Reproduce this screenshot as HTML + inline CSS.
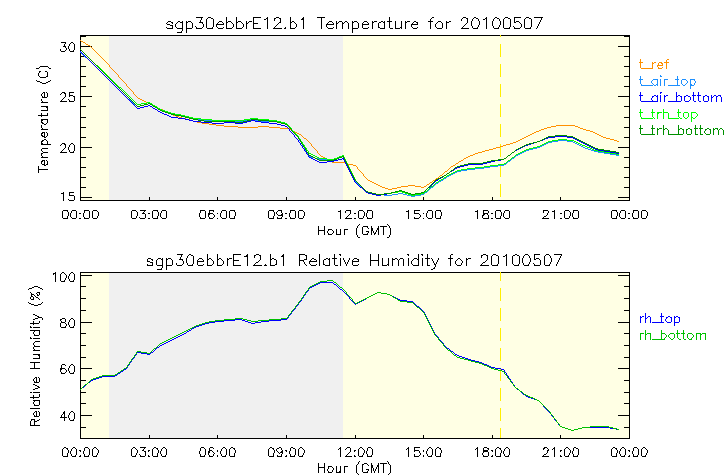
<!DOCTYPE html>
<html><head><meta charset="utf-8"><title>sgp30ebbrE12.b1 20100507</title>
<style>
html,body{margin:0;padding:0;background:#fff;font-family:"Liberation Sans",sans-serif;}
svg{display:block;}
</style></head><body>
<svg width="725" height="475" viewBox="0 0 725 475" shape-rendering="crispEdges">
<rect x="0" y="0" width="725" height="475" fill="#ffffff"/>
<rect x="81" y="36" width="28" height="164" fill="#ffffe4"/>
<rect x="109" y="36" width="234" height="164" fill="#f0f0f0"/>
<rect x="343" y="36" width="286" height="164" fill="#ffffe4"/>
<rect x="81" y="273" width="28" height="165" fill="#ffffe4"/>
<rect x="109" y="273" width="234" height="165" fill="#f0f0f0"/>
<rect x="343" y="273" width="286" height="165" fill="#ffffe4"/>
<g fill="none" stroke-width="1" stroke-linecap="butt">
<path stroke="#000000" d="M247.5 254v12M131.5 211v7M131.5 449v7M65.5 93v4M65.5 144v4M65.5 319v3M217.5 197v4M217.5 254v12M217.5 435v4M392.5 258v8M477.5 210v9M477.5 447v10M629.5 35v166M629.5 272v167M334.5 254v11M199.5 213v4M199.5 451v3M326.5 24v3M625.5 211v7M625.5 449v6M157.5 216v3M157.5 453v4M149.5 197v4M149.5 435v4M418.5 254v12M61.5 365v5M61.5 415v3M80.5 35v166M80.5 272v167M503.5 19v9M503.5 213v4M503.5 451v3M495.5 211v7M495.5 449v7M286.5 197v4M286.5 435v4M38.5 73v3M38.5 166v7M200.5 20v3M200.5 210v3M200.5 448v3M200.5 454v3M304.5 212v4M304.5 450v3M560.5 197v4M560.5 435v4M62.5 211v7M62.5 449v7M340.5 210v9M340.5 229v6M340.5 258v8M340.5 447v10M340.5 466v7M422.5 258v8M488.5 215v4M488.5 452v4M39.5 292v3M39.5 330v5M39.5 378v4M39.5 394v3M39.5 400v5M39.5 412v4M383.5 226v9M383.5 463v10M229.5 211v7M229.5 449v7M41.5 113v4M41.5 125v3M41.5 153v3M41.5 161v3M500.5 21v4M500.5 216v3M500.5 453v4M544.5 256v9M492.5 21v5M492.5 197v4M492.5 435v4M34.5 362v7M34.5 419v7M483.5 448v5M367.5 210v3M367.5 448v3M367.5 454v3M617.5 212v4M617.5 450v3M408.5 210v9M408.5 258v8M408.5 447v10M64.5 44v3M64.5 411v10M66.5 275v3M547.5 450v3M362.5 23v5M362.5 227v7M362.5 464v8M92.5 211v7M92.5 449v7M328.5 466v3M226.5 17v12M226.5 211v7M226.5 449v6M647.5 212v4M647.5 450v3M373.5 468v3M324.5 226v9M324.5 463v10M358.5 23v5M358.5 211v7M358.5 449v7M33.5 297v3M33.5 321v4M33.5 395v4M74.5 44v6M74.5 96v5M74.5 145v6M74.5 196v4M74.5 274v6M74.5 320v6M74.5 366v6M74.5 413v6M388.5 258v8M372.5 21v8M372.5 211v7M372.5 449v6M83.5 213v4M83.5 451v3M69.5 92v5M69.5 192v4M44.5 92v6M44.5 132v6M44.5 160v6M84.5 210v3M84.5 448v3M84.5 454v3M235.5 212v4M235.5 450v3M193.5 256v8M207.5 254v12M243.5 24v3M481.5 255v3M253.5 17v12M223.5 261v3M352.5 21v12M352.5 260v5M145.5 214v4M145.5 451v5M156.5 260v5M321.5 17v12M299.5 254v12M290.5 17v12M290.5 210v3M290.5 448v3M290.5 454v3M519.5 256v8M166.5 211v7M166.5 258v12M166.5 449v6M378.5 23v5M378.5 226v9M378.5 254v12M378.5 463v10M512.5 256v8M534.5 254v6M366.5 213v4M366.5 451v3M160.5 213v4M160.5 451v3M267.5 17v12M63.5 192v9M76.5 211v7M76.5 449v6M192.5 23v5M233.5 24v3M233.5 254v12M175.5 24v3M329.5 258v8M152.5 211v7M152.5 262v4M152.5 449v7M466.5 258v8M364.5 212v4M364.5 450v3M446.5 21v8M619.5 213v4M619.5 451v3M162.5 258v10M137.5 212v4M137.5 450v3M440.5 216v3M440.5 453v4M450.5 255v11M442.5 23v5M389.5 17v11M205.5 211v7M205.5 449v6M350.5 210v4M350.5 448v4M611.5 211v7M611.5 449v7M486.5 17v12M370.5 254v12M530.5 258v4M543.5 210v3M510.5 19v8M479.5 21v4M514.5 17v6M355.5 197v4M355.5 435v4M522.5 258v5M641.5 211v7M641.5 449v7M356.5 228v7M356.5 465v8M482.5 215v3M509.5 211v7M509.5 449v6M208.5 213v4M208.5 451v4M554.5 210v9M554.5 447v10M430.5 19v10M344.5 229v6M344.5 466v7M564.5 211v7M564.5 449v7M638.5 211v7M638.5 449v6M234.5 216v3M234.5 453v4M414.5 210v4M414.5 447v5M414.5 454v3M30.5 421v5M47.5 72v5M47.5 93v4M47.5 113v3M47.5 119v4M47.5 133v3M47.5 141v4M47.5 161v4M36.5 377v6M36.5 411v6M371.5 226v9M371.5 463v10M318.5 226v9M318.5 463v10M427.5 254v12M89.5 211v7M89.5 449v6M60.5 274v7M60.5 323v4M60.5 368v4M181.5 254v3M506.5 254v12M411.5 24v3M411.5 261v3M260.5 255v5M498.5 256v8M186.5 21v12M186.5 258v5M423.5 197v4M423.5 435v4M323.5 260v5M524.5 19v9M147.5 259v3M435.5 24v3M435.5 211v7M435.5 264v3M435.5 449v7M182.5 21v10M487.5 255v5M319.5 254v12M98.5 212v4M98.5 450v3M467.5 18v5M236.5 17v12M403.5 259v7M395.5 21v8M342.5 22v7M268.5 211v7M268.5 449v7M573.5 210v3M573.5 448v3M573.5 454v3M270.5 254v12M281.5 210v3M281.5 454v3M471.5 21v5M295.5 211v7M295.5 449v6M203.5 24v3M348.5 23v6M390.5 228v7M390.5 465v8M298.5 211v7M298.5 449v7M246.5 21v8M405.5 21v8M282.5 213v4M282.5 450v4M501.5 212v4M501.5 450v3M158.5 212v4M158.5 450v3M578.5 211v7M578.5 449v6M455.5 261v3M531.5 19v8M273.5 216v3M273.5 453v4M633.5 210v3M633.5 448v3M633.5 454v3M70.5 213v4M70.5 451v3M280.5 18v5M616.5 216v3M616.5 453v4M426.5 213v4M426.5 451v3M572.5 213v4M572.5 451v3M432.5 211v7M432.5 449v6M227.5 258v8M336.5 21v8M336.5 229v6M336.5 466v7M398.5 260v6M55.5 272v10M382.5 258v8M441.5 212v4M441.5 450v3M283.5 254v12M289.5 213v4M289.5 451v3M541.5 17v3M180.5 257v3M384.5 21v8M309.5 261v3M201.5 17v3M220.5 213v4M220.5 451v3M213.5 19v8M213.5 261v3M68.5 46v3M68.5 147v3M68.5 212v4M68.5 276v3M68.5 322v3M68.5 368v3M68.5 415v3M68.5 450v3M31.5 293v4M303.5 17v12M491.5 256v9M216.5 24v3M183.5 261v3M274.5 18v3M274.5 212v4M274.5 450v3M401.5 21v8M296.5 24v3M67.5 216v3M67.5 453v4M197.5 260v5M172.5 25v4M172.5 260v5M306.5 255v5M254.5 255v3M551.5 258v4M570.5 212v4M570.5 450v3M632.5 213v4M632.5 451v3M206.5 19v9M521.5 24v3M276.5 260v5M540.5 260v5M196 17.5h5M202 17.5h1M208 17.5h3M254 17.5h7M276 17.5h3M317 17.5h4M322 17.5h3M432 17.5h2M463 17.5h3M474 17.5h2M495 17.5h2M505 17.5h3M515 17.5h6M526 17.5h3M534 17.5h7M542 17.5h1M207 18.5h1M211 18.5h2M266 18.5h1M275 18.5h1M279 18.5h1M302 18.5h1M431 18.5h1M462 18.5h1M466 18.5h1M473 18.5h1M476 18.5h2M485 18.5h1M494 18.5h1M497 18.5h2M504 18.5h1M508 18.5h2M525 18.5h1M529 18.5h2M264 19.5h2M301 19.5h2M461 19.5h1M472 19.5h1M478 19.5h1M483 19.5h2M493 19.5h1M499 19.5h1M461 20.5h1M472 20.5h1M478 20.5h1M493 20.5h1M499 20.5h1M540 20.5h1M168 21.5h3M178 21.5h2M188 21.5h3M219 21.5h3M228 21.5h3M238 21.5h3M249 21.5h3M292 21.5h2M329 21.5h3M339 21.5h3M345 21.5h2M354 21.5h3M364 21.5h3M374 21.5h3M381 21.5h2M387 21.5h2M390 21.5h2M407 21.5h3M414 21.5h2M428 21.5h2M431 21.5h2M438 21.5h3M449 21.5h2M516 21.5h3M540 21.5h1M167 22.5h1M171 22.5h2M177 22.5h1M180 22.5h2M187 22.5h1M191 22.5h1M199 22.5h1M201 22.5h2M218 22.5h1M222 22.5h1M227 22.5h1M231 22.5h1M237 22.5h1M241 22.5h1M248 22.5h1M279 22.5h1M291 22.5h1M294 22.5h1M328 22.5h1M332 22.5h1M338 22.5h1M344 22.5h1M347 22.5h1M353 22.5h1M357 22.5h1M363 22.5h1M367 22.5h1M373 22.5h1M379 22.5h2M383 22.5h1M406 22.5h1M413 22.5h1M416 22.5h2M437 22.5h1M441 22.5h1M447 22.5h2M515 22.5h1M519 22.5h1M539 22.5h1M166 23.5h1M172 23.5h1M176 23.5h1M202 23.5h1M217 23.5h1M223 23.5h1M232 23.5h1M242 23.5h1M247 23.5h1M254 23.5h4M278 23.5h1M295 23.5h1M327 23.5h1M333 23.5h1M337 23.5h1M343 23.5h1M368 23.5h1M412 23.5h1M417 23.5h1M436 23.5h1M466 23.5h1M520 23.5h1M539 23.5h1M167 24.5h3M217 24.5h7M277 24.5h1M327 24.5h7M363 24.5h6M412 24.5h6M465 24.5h1M538 24.5h1M170 25.5h2M276 25.5h1M464 25.5h1M478 25.5h1M499 25.5h1M538 25.5h1M195 26.5h1M275 26.5h1M463 26.5h1M472 26.5h1M478 26.5h1M493 26.5h1M499 26.5h1M513 26.5h1M537 26.5h1M166 27.5h1M176 27.5h1M196 27.5h1M202 27.5h1M212 27.5h1M217 27.5h1M223 27.5h1M232 27.5h1M242 27.5h1M274 27.5h1M285 27.5h1M295 27.5h1M327 27.5h1M333 27.5h1M368 27.5h1M379 27.5h1M400 27.5h1M412 27.5h1M417 27.5h1M436 27.5h1M462 27.5h1M472 27.5h1M477 27.5h1M493 27.5h1M498 27.5h1M509 27.5h1M514 27.5h1M520 27.5h1M530 27.5h1M537 27.5h1M167 28.5h5M177 28.5h5M187 28.5h5M196 28.5h6M207 28.5h6M218 28.5h5M227 28.5h5M237 28.5h5M254 28.5h7M273 28.5h9M284 28.5h2M291 28.5h4M328 28.5h5M353 28.5h5M363 28.5h5M380 28.5h4M390 28.5h3M396 28.5h4M413 28.5h4M437 28.5h5M461 28.5h8M473 28.5h5M494 28.5h5M504 28.5h6M514 28.5h6M525 28.5h6M536 28.5h1M181 31.5h1M177 32.5h5M81 35.5h548M81 36.5h5M624 36.5h5M61 42.5h5M71 42.5h2M65 43.5h1M70 43.5h1M73 43.5h1M69 44.5h1M69 45.5h1M63 46.5h1M65 46.5h1M81 46.5h11M618 46.5h11M65 47.5h1M66 48.5h1M60 49.5h1M66 49.5h1M69 49.5h1M60 50.5h1M65 50.5h1M69 50.5h1M73 50.5h1M61 51.5h4M70 51.5h4M81 56.5h5M624 56.5h5M40 66.5h8M81 66.5h5M624 66.5h5M39 67.5h1M48 67.5h1M36 68.5h3M49 68.5h2M39 71.5h2M45 71.5h2M39 72.5h1M39 76.5h1M46 76.5h1M81 76.5h5M624 76.5h5M40 77.5h6M36 80.5h1M50 80.5h1M37 81.5h3M48 81.5h2M40 82.5h2M46 82.5h2M42 83.5h4M81 86.5h5M624 86.5h5M43 92.5h1M46 92.5h1M62 92.5h3M70 92.5h4M42 93.5h1M61 93.5h1M64 93.5h1M41 94.5h1M60 94.5h1M41 95.5h1M70 95.5h3M42 96.5h1M73 96.5h1M81 96.5h11M618 96.5h11M42 97.5h2M45 97.5h2M64 97.5h1M63 98.5h1M41 99.5h1M62 99.5h1M68 99.5h1M41 100.5h1M61 100.5h1M69 100.5h1M42 101.5h1M60 101.5h7M69 101.5h5M41 102.5h7M41 106.5h7M81 106.5h5M624 106.5h5M46 107.5h2M47 108.5h1M47 109.5h1M41 110.5h7M38 115.5h3M42 115.5h5M81 117.5h5M624 117.5h5M41 119.5h6M41 120.5h2M41 121.5h1M41 122.5h2M42 123.5h2M46 123.5h1M44 124.5h2M81 127.5h5M624 127.5h5M42 128.5h1M41 129.5h7M42 132.5h2M46 132.5h1M41 133.5h2M41 134.5h1M41 135.5h2M42 136.5h2M46 136.5h1M45 137.5h1M81 137.5h5M624 137.5h5M44 139.5h2M42 140.5h2M46 140.5h1M41 141.5h2M41 142.5h1M41 143.5h2M62 143.5h3M71 143.5h2M41 144.5h6M48 144.5h3M61 144.5h1M64 144.5h1M70 144.5h1M73 144.5h1M60 145.5h1M69 145.5h1M69 146.5h1M81 147.5h11M618 147.5h11M42 148.5h6M64 148.5h1M41 149.5h1M63 149.5h1M41 150.5h1M62 150.5h1M69 150.5h1M42 151.5h1M61 151.5h1M69 151.5h1M73 151.5h1M43 152.5h5M60 152.5h7M70 152.5h4M42 153.5h1M42 156.5h1M41 157.5h7M81 157.5h5M624 157.5h5M42 160.5h2M46 160.5h1M42 161.5h1M42 164.5h2M46 164.5h1M45 165.5h1M81 167.5h5M624 167.5h5M39 169.5h9M81 177.5h5M624 177.5h5M81 187.5h5M624 187.5h5M70 192.5h4M61 193.5h2M70 195.5h4M81 197.5h11M618 197.5h11M68 199.5h1M69 200.5h5M81 200.5h68M150 200.5h67M218 200.5h68M287 200.5h68M356 200.5h67M424 200.5h68M493 200.5h67M561 200.5h68M63 210.5h5M72 210.5h4M85 210.5h4M93 210.5h4M132 210.5h4M140 210.5h6M153 210.5h5M162 210.5h4M201 210.5h4M209 210.5h5M222 210.5h4M230 210.5h5M269 210.5h5M278 210.5h3M291 210.5h4M299 210.5h4M346 210.5h4M359 210.5h4M368 210.5h4M415 210.5h5M428 210.5h4M436 210.5h5M483 210.5h5M496 210.5h5M505 210.5h4M544 210.5h4M565 210.5h4M574 210.5h4M612 210.5h5M621 210.5h4M634 210.5h4M642 210.5h4M67 211.5h1M71 211.5h1M97 211.5h1M136 211.5h1M144 211.5h1M157 211.5h1M161 211.5h1M209 211.5h1M213 211.5h1M221 211.5h1M234 211.5h1M273 211.5h1M277 211.5h1M303 211.5h1M338 211.5h2M345 211.5h1M363 211.5h1M406 211.5h2M427 211.5h1M440 211.5h1M475 211.5h2M483 211.5h1M488 211.5h1M500 211.5h1M504 211.5h1M548 211.5h1M552 211.5h2M569 211.5h1M616 211.5h1M620 211.5h1M646 211.5h1M71 212.5h1M143 212.5h1M161 212.5h1M209 212.5h1M221 212.5h1M276 212.5h1M345 212.5h1M427 212.5h1M483 212.5h1M488 212.5h1M504 212.5h1M548 212.5h1M620 212.5h1M79 213.5h2M142 213.5h3M148 213.5h2M209 213.5h4M217 213.5h1M276 213.5h1M285 213.5h2M354 213.5h2M415 213.5h4M423 213.5h1M483 213.5h5M491 213.5h2M547 213.5h1M560 213.5h2M628 213.5h2M209 214.5h1M213 214.5h1M277 214.5h1M281 214.5h1M349 214.5h1M419 214.5h1M483 214.5h2M487 214.5h1M547 214.5h1M214 215.5h1M278 215.5h4M348 215.5h1M420 215.5h1M483 215.5h1M546 215.5h1M97 216.5h1M136 216.5h1M214 216.5h1M303 216.5h1M347 216.5h1M363 216.5h1M420 216.5h1M544 216.5h2M569 216.5h1M646 216.5h1M71 217.5h1M84 217.5h1M97 217.5h1M136 217.5h1M139 217.5h1M161 217.5h1M200 217.5h1M209 217.5h1M213 217.5h1M221 217.5h1M277 217.5h1M281 217.5h1M290 217.5h1M303 217.5h1M346 217.5h1M363 217.5h1M367 217.5h1M414 217.5h1M419 217.5h1M427 217.5h1M504 217.5h1M543 217.5h1M569 217.5h1M573 217.5h1M620 217.5h1M633 217.5h1M646 217.5h1M63 218.5h4M72 218.5h4M79 218.5h2M84 218.5h5M93 218.5h4M132 218.5h4M140 218.5h5M148 218.5h2M153 218.5h4M162 218.5h4M200 218.5h5M209 218.5h4M217 218.5h1M222 218.5h4M230 218.5h4M269 218.5h4M277 218.5h5M285 218.5h2M290 218.5h5M299 218.5h4M345 218.5h7M354 218.5h2M359 218.5h4M367 218.5h5M414 218.5h5M423 218.5h1M428 218.5h4M436 218.5h4M483 218.5h5M491 218.5h2M496 218.5h4M505 218.5h4M542 218.5h7M560 218.5h2M565 218.5h4M573 218.5h5M612 218.5h4M621 218.5h4M628 218.5h2M633 218.5h5M642 218.5h4M359 224.5h1M387 224.5h1M358 225.5h1M388 225.5h1M357 226.5h1M363 226.5h5M380 226.5h3M384 226.5h3M389 226.5h1M357 227.5h1M367 227.5h1M389 227.5h1M368 228.5h1M372 228.5h1M377 228.5h1M328 229.5h4M345 229.5h3M372 229.5h1M377 229.5h1M319 230.5h5M328 230.5h1M332 230.5h1M372 230.5h1M376 230.5h1M327 231.5h1M333 231.5h1M366 231.5h3M373 231.5h1M376 231.5h1M327 232.5h1M333 232.5h1M368 232.5h1M373 232.5h1M375 232.5h1M328 233.5h1M332 233.5h1M367 233.5h1M374 233.5h2M328 234.5h4M337 234.5h3M363 234.5h5M374 234.5h1M357 235.5h1M389 235.5h1M357 236.5h1M389 236.5h1M358 237.5h2M387 237.5h2M177 254.5h4M182 254.5h1M189 254.5h2M234 254.5h7M256 254.5h3M300 254.5h5M339 254.5h2M407 254.5h2M421 254.5h2M451 254.5h2M483 254.5h3M493 254.5h3M515 254.5h2M525 254.5h3M535 254.5h5M546 254.5h3M554 254.5h8M188 255.5h1M191 255.5h2M246 255.5h1M255 255.5h1M259 255.5h1M282 255.5h1M305 255.5h1M340 255.5h1M408 255.5h1M422 255.5h1M482 255.5h1M486 255.5h1M492 255.5h1M496 255.5h2M505 255.5h1M513 255.5h2M517 255.5h2M524 255.5h1M528 255.5h1M545 255.5h1M549 255.5h1M561 255.5h1M187 256.5h1M244 256.5h3M281 256.5h2M503 256.5h2M523 256.5h1M529 256.5h1M550 256.5h1M560 256.5h1M187 257.5h1M523 257.5h1M529 257.5h1M550 257.5h1M560 257.5h1M148 258.5h3M158 258.5h3M168 258.5h3M199 258.5h3M209 258.5h2M219 258.5h2M229 258.5h3M272 258.5h2M312 258.5h2M326 258.5h2M332 258.5h2M335 258.5h2M343 258.5h1M349 258.5h1M354 258.5h3M395 258.5h2M400 258.5h3M414 258.5h3M425 258.5h2M428 258.5h2M431 258.5h1M438 258.5h1M448 258.5h2M451 258.5h2M458 258.5h2M468 258.5h3M536 258.5h3M559 258.5h1M151 259.5h2M157 259.5h1M161 259.5h1M167 259.5h1M171 259.5h1M179 259.5h1M181 259.5h2M198 259.5h1M202 259.5h1M208 259.5h1M211 259.5h1M218 259.5h1M221 259.5h1M228 259.5h1M271 259.5h1M274 259.5h2M304 259.5h2M311 259.5h1M314 259.5h2M324 259.5h2M328 259.5h1M343 259.5h1M349 259.5h1M353 259.5h1M357 259.5h2M393 259.5h2M397 259.5h1M399 259.5h1M413 259.5h1M417 259.5h1M432 259.5h1M438 259.5h1M457 259.5h1M460 259.5h1M467 259.5h1M535 259.5h1M539 259.5h1M559 259.5h1M152 260.5h1M182 260.5h1M203 260.5h1M212 260.5h1M222 260.5h1M234 260.5h5M259 260.5h1M300 260.5h4M310 260.5h1M316 260.5h1M344 260.5h1M348 260.5h1M358 260.5h1M371 260.5h7M412 260.5h1M432 260.5h1M437 260.5h1M456 260.5h1M461 260.5h1M486 260.5h1M558 260.5h1M148 261.5h2M198 261.5h6M258 261.5h1M303 261.5h1M310 261.5h7M344 261.5h1M348 261.5h1M353 261.5h6M433 261.5h1M437 261.5h1M462 261.5h1M485 261.5h1M558 261.5h1M150 262.5h2M256 262.5h2M304 262.5h1M345 262.5h1M347 262.5h1M433 262.5h1M436 262.5h1M462 262.5h1M483 262.5h2M529 262.5h1M550 262.5h1M557 262.5h1M176 263.5h1M187 263.5h1M255 263.5h1M304 263.5h1M345 263.5h1M347 263.5h1M434 263.5h1M436 263.5h1M461 263.5h1M482 263.5h1M523 263.5h1M529 263.5h1M533 263.5h1M550 263.5h1M557 263.5h1M147 264.5h1M176 264.5h1M182 264.5h1M187 264.5h1M192 264.5h1M203 264.5h1M212 264.5h1M222 264.5h1M254 264.5h1M265 264.5h1M275 264.5h1M305 264.5h1M310 264.5h1M316 264.5h1M324 264.5h1M346 264.5h1M358 264.5h1M387 264.5h1M412 264.5h1M434 264.5h1M456 264.5h1M461 264.5h1M481 264.5h1M497 264.5h1M513 264.5h1M518 264.5h1M523 264.5h1M528 264.5h1M534 264.5h1M549 264.5h1M556 264.5h1M147 265.5h5M157 265.5h5M167 265.5h5M177 265.5h5M188 265.5h5M198 265.5h5M208 265.5h4M218 265.5h4M234 265.5h7M253 265.5h9M264 265.5h3M271 265.5h4M306 265.5h1M311 265.5h5M325 265.5h4M335 265.5h3M346 265.5h1M353 265.5h5M383 265.5h4M413 265.5h5M428 265.5h2M457 265.5h4M480 265.5h9M492 265.5h6M514 265.5h5M524 265.5h5M534 265.5h6M545 265.5h5M556 265.5h1M434 267.5h1M161 268.5h1M433 268.5h2M157 269.5h5M431 269.5h2M62 272.5h2M71 272.5h2M81 272.5h548M53 273.5h2M61 273.5h1M64 273.5h1M70 273.5h1M73 273.5h1M53 274.5h1M65 274.5h1M69 274.5h1M69 275.5h1M81 275.5h11M618 275.5h11M65 278.5h1M65 279.5h1M69 279.5h1M64 280.5h1M69 280.5h1M73 280.5h1M61 281.5h4M70 281.5h4M34 286.5h4M81 286.5h5M624 286.5h5M32 287.5h2M38 287.5h2M29 288.5h3M40 288.5h2M28 289.5h1M42 289.5h1M30 292.5h1M37 292.5h2M36 293.5h1M32 294.5h2M37 294.5h1M34 295.5h1M37 295.5h2M32 296.5h1M35 296.5h1M30 297.5h1M36 297.5h2M30 298.5h1M38 298.5h1M81 298.5h5M624 298.5h5M31 299.5h2M39 299.5h1M28 302.5h1M42 302.5h1M29 303.5h2M41 303.5h1M31 304.5h3M38 304.5h3M34 305.5h4M81 310.5h5M624 310.5h5M33 314.5h2M35 315.5h2M37 316.5h2M38 317.5h4M35 318.5h3M42 318.5h1M62 318.5h3M71 318.5h2M33 319.5h2M42 319.5h1M60 319.5h2M70 319.5h1M73 319.5h1M60 320.5h1M69 320.5h1M39 321.5h1M61 321.5h1M69 321.5h1M39 322.5h1M61 322.5h4M81 322.5h11M618 322.5h11M30 323.5h3M34 323.5h5M65 323.5h1M66 324.5h1M66 325.5h1M69 325.5h1M30 326.5h1M65 326.5h1M69 326.5h1M73 326.5h1M30 327.5h2M33 327.5h7M61 327.5h5M70 327.5h4M30 330.5h9M34 331.5h1M33 332.5h1M33 333.5h1M81 333.5h5M624 333.5h5M34 334.5h1M34 335.5h5M30 337.5h1M30 338.5h2M33 338.5h7M35 341.5h5M34 342.5h1M33 343.5h1M33 344.5h1M34 345.5h1M81 345.5h5M624 345.5h5M34 346.5h6M33 347.5h1M33 348.5h1M34 349.5h1M33 350.5h7M33 354.5h7M38 355.5h2M39 356.5h1M39 357.5h1M81 357.5h5M624 357.5h5M33 358.5h7M30 362.5h4M35 362.5h5M62 364.5h3M71 364.5h2M65 365.5h1M70 365.5h1M73 365.5h1M69 366.5h1M69 367.5h1M30 368.5h4M35 368.5h5M62 368.5h3M81 368.5h11M618 368.5h11M65 369.5h1M66 370.5h1M66 371.5h1M69 371.5h1M61 372.5h1M65 372.5h1M69 372.5h1M73 372.5h1M61 373.5h4M70 373.5h4M35 377.5h1M38 377.5h1M34 378.5h1M33 379.5h1M33 380.5h1M81 380.5h5M624 380.5h5M34 381.5h1M34 382.5h2M37 382.5h2M33 384.5h2M35 385.5h2M37 386.5h2M38 387.5h2M35 388.5h3M33 389.5h2M30 392.5h2M33 392.5h7M81 392.5h5M624 392.5h5M30 397.5h3M34 397.5h5M33 400.5h6M34 401.5h1M33 402.5h1M33 403.5h1M81 403.5h5M624 403.5h5M34 404.5h1M34 405.5h5M30 408.5h10M35 411.5h1M38 411.5h1M71 411.5h2M34 412.5h1M63 412.5h1M70 412.5h1M73 412.5h1M33 413.5h1M63 413.5h1M69 413.5h1M33 414.5h1M62 414.5h1M69 414.5h1M34 415.5h1M81 415.5h11M618 415.5h11M34 416.5h2M37 416.5h2M60 417.5h1M62 417.5h2M65 417.5h2M69 418.5h1M31 419.5h3M39 419.5h1M69 419.5h1M73 419.5h1M31 420.5h1M37 420.5h2M70 420.5h4M35 421.5h2M31 425.5h3M35 425.5h5M81 427.5h5M624 427.5h5M81 438.5h68M150 438.5h67M218 438.5h68M287 438.5h68M356 438.5h67M424 438.5h68M493 438.5h67M561 438.5h68M64 447.5h2M73 447.5h2M85 447.5h3M94 447.5h2M133 447.5h2M140 447.5h6M154 447.5h2M163 447.5h2M201 447.5h3M210 447.5h3M223 447.5h2M231 447.5h2M270 447.5h2M279 447.5h2M291 447.5h2M300 447.5h2M347 447.5h3M360 447.5h2M368 447.5h3M415 447.5h5M429 447.5h2M437 447.5h2M484 447.5h3M497 447.5h2M506 447.5h2M544 447.5h3M566 447.5h2M574 447.5h2M613 447.5h2M622 447.5h2M634 447.5h3M643 447.5h2M63 448.5h1M66 448.5h2M72 448.5h1M75 448.5h1M88 448.5h1M93 448.5h1M96 448.5h1M132 448.5h1M135 448.5h1M144 448.5h1M153 448.5h1M156 448.5h2M162 448.5h1M165 448.5h1M204 448.5h1M209 448.5h1M213 448.5h1M222 448.5h1M225 448.5h1M230 448.5h1M233 448.5h2M269 448.5h1M272 448.5h2M277 448.5h2M281 448.5h1M293 448.5h2M299 448.5h1M302 448.5h1M339 448.5h1M346 448.5h1M359 448.5h1M362 448.5h1M371 448.5h1M407 448.5h1M428 448.5h1M431 448.5h1M436 448.5h1M439 448.5h2M476 448.5h1M487 448.5h2M496 448.5h1M499 448.5h2M505 448.5h1M508 448.5h1M543 448.5h2M547 448.5h1M553 448.5h1M565 448.5h1M568 448.5h1M576 448.5h2M612 448.5h1M615 448.5h2M621 448.5h1M624 448.5h1M637 448.5h1M642 448.5h1M645 448.5h1M67 449.5h1M71 449.5h1M97 449.5h1M136 449.5h1M143 449.5h1M157 449.5h1M161 449.5h1M209 449.5h1M221 449.5h1M234 449.5h1M273 449.5h1M276 449.5h1M281 449.5h1M303 449.5h1M338 449.5h1M345 449.5h1M363 449.5h1M406 449.5h1M427 449.5h1M440 449.5h1M475 449.5h1M488 449.5h1M500 449.5h1M504 449.5h1M543 449.5h1M548 449.5h1M552 449.5h1M569 449.5h1M616 449.5h1M620 449.5h1M646 449.5h1M71 450.5h1M79 450.5h2M142 450.5h2M148 450.5h2M161 450.5h1M209 450.5h3M217 450.5h1M221 450.5h1M276 450.5h1M285 450.5h2M354 450.5h2M415 450.5h4M423 450.5h1M427 450.5h1M484 450.5h4M491 450.5h2M504 450.5h1M548 450.5h1M560 450.5h2M620 450.5h1M628 450.5h2M80 451.5h1M144 451.5h1M148 451.5h1M209 451.5h1M212 451.5h1M217 451.5h1M277 451.5h1M281 451.5h1M286 451.5h1M354 451.5h1M419 451.5h1M423 451.5h1M484 451.5h4M492 451.5h1M560 451.5h1M629 451.5h1M209 452.5h1M213 452.5h1M278 452.5h1M280 452.5h2M349 452.5h1M419 452.5h1M97 453.5h1M136 453.5h1M214 453.5h1M279 453.5h1M303 453.5h1M348 453.5h1M363 453.5h1M420 453.5h1M482 453.5h1M546 453.5h1M569 453.5h1M646 453.5h1M71 454.5h1M97 454.5h1M136 454.5h1M139 454.5h1M161 454.5h1M213 454.5h1M221 454.5h1M303 454.5h1M347 454.5h1M363 454.5h1M420 454.5h1M427 454.5h1M482 454.5h1M504 454.5h1M544 454.5h2M569 454.5h1M620 454.5h1M646 454.5h1M71 455.5h1M75 455.5h1M80 455.5h1M88 455.5h1M96 455.5h1M135 455.5h1M140 455.5h1M148 455.5h1M161 455.5h1M165 455.5h1M204 455.5h1M209 455.5h1M213 455.5h1M217 455.5h1M221 455.5h1M225 455.5h1M277 455.5h1M286 455.5h1M294 455.5h1M302 455.5h1M346 455.5h1M354 455.5h1M362 455.5h1M371 455.5h1M419 455.5h1M423 455.5h1M427 455.5h1M431 455.5h1M483 455.5h1M492 455.5h1M504 455.5h1M508 455.5h1M543 455.5h1M560 455.5h1M568 455.5h1M577 455.5h1M620 455.5h1M624 455.5h1M629 455.5h1M637 455.5h1M645 455.5h1M63 456.5h4M72 456.5h4M79 456.5h2M85 456.5h4M93 456.5h4M132 456.5h4M140 456.5h5M148 456.5h2M153 456.5h4M162 456.5h4M201 456.5h4M209 456.5h4M217 456.5h1M222 456.5h4M230 456.5h4M269 456.5h4M277 456.5h4M285 456.5h2M291 456.5h4M299 456.5h4M345 456.5h7M354 456.5h2M359 456.5h4M368 456.5h4M415 456.5h4M423 456.5h1M428 456.5h4M436 456.5h4M483 456.5h5M491 456.5h2M496 456.5h4M505 456.5h4M542 456.5h7M560 456.5h2M565 456.5h4M574 456.5h4M612 456.5h4M621 456.5h4M628 456.5h2M634 456.5h4M642 456.5h4M359 461.5h1M387 461.5h1M358 462.5h1M388 462.5h1M358 463.5h1M364 463.5h3M380 463.5h3M384 463.5h3M388 463.5h1M357 464.5h1M363 464.5h1M367 464.5h1M389 464.5h1M368 465.5h1M372 465.5h1M377 465.5h1M329 466.5h3M345 466.5h3M372 466.5h1M377 466.5h1M319 467.5h5M332 467.5h1M372 467.5h1M376 467.5h1M333 468.5h1M376 468.5h1M327 469.5h1M333 469.5h1M366 469.5h3M375 469.5h1M327 470.5h1M332 470.5h1M368 470.5h1M375 470.5h1M328 471.5h1M332 471.5h1M339 471.5h1M367 471.5h1M374 471.5h1M328 472.5h4M337 472.5h3M363 472.5h5M374 472.5h1M357 473.5h1M389 473.5h1M358 474.5h1M388 474.5h1M359 475.5h1M387 475.5h1"/>
<path stroke="#ffee00" d="M500.5 44v13M500.5 64v13M500.5 84v13M500.5 104v13M500.5 124v13M500.5 144v13M500.5 164v13M500.5 184v13M500.5 272v9M500.5 288v13M500.5 308v13M500.5 328v13M500.5 348v13M500.5 368v13M500.5 388v13M500.5 408v13M500.5 428v10M500 35.5h1M500 36.5h1"/>
<path stroke="#ff9000" d="M80 40.5h1M81 41.5h2M83 42.5h2M85 43.5h1M86 44.5h2M88 45.5h2M90 46.5h1M91 47.5h1M92 48.5h1M93 49.5h1M94 50.5h1M95 51.5h1M96 52.5h1M97 53.5h1M98 54.5h1M99 55.5h1M100 56.5h1M101 57.5h1M102 58.5h1M103 59.5h1M104 60.5h1M105 61.5h1M106 62.5h1M107 63.5h1M108 64.5h1M109 65.5h1M109 66.5h1M110 67.5h1M111 68.5h1M112 69.5h1M113 70.5h1M114 71.5h1M115 72.5h1M116 73.5h1M117 74.5h1M118 75.5h1M118 76.5h1M119 77.5h1M120 78.5h1M121 79.5h1M122 80.5h1M123 81.5h1M124 82.5h1M125 83.5h1M126 84.5h1M126 85.5h1M127 86.5h1M128 87.5h1M129 88.5h1M130 89.5h1M131 90.5h1M132 91.5h1M133 92.5h1M133 93.5h1M134 94.5h1M135 95.5h1M136 96.5h1M137 97.5h1M138 98.5h2M140 99.5h2M142 100.5h2M144 101.5h2M146 102.5h2M148 103.5h2M150 104.5h2M152 105.5h2M154 106.5h2M156 107.5h2M158 108.5h2M160 109.5h3M163 110.5h2M165 111.5h2M167 112.5h2M169 113.5h2M171 114.5h2M173 115.5h3M176 116.5h3M179 117.5h3M182 118.5h4M186 119.5h4M190 120.5h3M193 121.5h4M197 122.5h5M202 123.5h7M209 124.5h7M216 125.5h8M556 125.5h19M224 126.5h14M258 126.5h11M551 126.5h5M575 126.5h3M238 127.5h20M269 127.5h11M547 127.5h4M578 127.5h2M280 128.5h10M544 128.5h3M580 128.5h3M290 129.5h1M541 129.5h3M583 129.5h3M291 130.5h2M539 130.5h2M586 130.5h4M293 131.5h2M536 131.5h3M590 131.5h3M295 132.5h2M534 132.5h2M593 132.5h2M297 133.5h2M532 133.5h2M595 133.5h2M299 134.5h2M530 134.5h2M597 134.5h2M301 135.5h1M528 135.5h2M599 135.5h2M302 136.5h1M526 136.5h2M601 136.5h2M303 137.5h1M524 137.5h2M603 137.5h3M304 138.5h2M522 138.5h2M606 138.5h4M306 139.5h1M520 139.5h2M610 139.5h4M307 140.5h1M518 140.5h2M614 140.5h3M308 141.5h1M516 141.5h2M617 141.5h2M309 142.5h1M513 142.5h3M310 143.5h1M510 143.5h3M311 144.5h1M506 144.5h4M311 145.5h1M503 145.5h3M312 146.5h1M500 146.5h3M313 147.5h1M496 147.5h4M314 148.5h1M493 148.5h3M315 149.5h1M489 149.5h4M316 150.5h1M485 150.5h4M317 151.5h1M482 151.5h3M317 152.5h1M478 152.5h4M318 153.5h1M475 153.5h3M319 154.5h1M473 154.5h2M320 155.5h1M470 155.5h3M321 156.5h2M468 156.5h2M323 157.5h2M466 157.5h2M325 158.5h1M464 158.5h2M326 159.5h2M463 159.5h1M328 160.5h2M461 160.5h2M330 161.5h2M459 161.5h2M332 162.5h14M458 162.5h1M346 163.5h2M456 163.5h2M348 164.5h5M455 164.5h1M353 165.5h3M453 165.5h2M356 166.5h1M451 166.5h2M357 167.5h1M450 167.5h1M357 168.5h1M449 168.5h1M358 169.5h1M448 169.5h1M359 170.5h1M447 170.5h1M360 171.5h1M445 171.5h2M361 172.5h1M444 172.5h1M362 173.5h1M443 173.5h1M363 174.5h1M442 174.5h1M363 175.5h1M440 175.5h2M364 176.5h1M439 176.5h1M365 177.5h1M438 177.5h1M366 178.5h1M436 178.5h2M367 179.5h1M435 179.5h1M368 180.5h2M433 180.5h2M370 181.5h2M432 181.5h1M372 182.5h2M430 182.5h2M374 183.5h2M429 183.5h1M376 184.5h2M427 184.5h2M378 185.5h2M408 185.5h7M426 185.5h1M380 186.5h2M401 186.5h7M415 186.5h6M424 186.5h2M382 187.5h3M397 187.5h4M421 187.5h3M385 188.5h3M392 188.5h5M388 189.5h4"/>
<path stroke="#1e90ff" d="M80 52.5h1M81 53.5h1M82 54.5h1M83 55.5h1M84 56.5h1M85 57.5h2M87 58.5h1M88 59.5h1M89 60.5h1M90 61.5h1M91 62.5h1M92 63.5h1M93 64.5h1M94 65.5h1M95 66.5h1M96 67.5h1M97 68.5h1M98 69.5h1M99 70.5h1M100 71.5h1M101 72.5h1M102 73.5h1M103 74.5h1M104 75.5h1M105 76.5h1M106 77.5h1M107 78.5h1M108 79.5h1M109 80.5h1M110 81.5h1M111 82.5h1M112 83.5h1M113 84.5h1M114 85.5h1M115 86.5h1M116 87.5h1M117 88.5h1M118 89.5h1M119 90.5h1M120 91.5h1M121 92.5h1M122 93.5h1M123 94.5h1M124 95.5h1M125 96.5h1M126 97.5h1M127 98.5h1M128 99.5h2M130 100.5h1M131 101.5h1M132 102.5h1M133 103.5h1M148 103.5h2M134 104.5h2M144 104.5h4M150 104.5h2M136 105.5h1M140 105.5h4M152 105.5h1M137 106.5h3M153 106.5h2M155 107.5h2M157 108.5h1M158 109.5h2M160 110.5h2M162 111.5h3M165 112.5h3M168 113.5h3M171 114.5h4M175 115.5h6M181 116.5h4M185 117.5h4M189 118.5h4M193 119.5h8M250 119.5h5M201 120.5h34M244 120.5h6M255 120.5h6M269 120.5h8M235 121.5h9M261 121.5h8M277 121.5h4M281 122.5h4M285 123.5h2M287 124.5h1M288 125.5h1M289 126.5h1M289 127.5h1M290 128.5h1M291 129.5h1M292 130.5h1M293 131.5h1M294 132.5h1M294 133.5h1M295 134.5h1M296 135.5h1M297 136.5h1M298 137.5h1M298 138.5h1M299 139.5h1M299 140.5h1M558 140.5h9M300 141.5h1M552 141.5h6M567 141.5h6M301 142.5h1M548 142.5h4M573 142.5h2M301 143.5h1M546 143.5h2M575 143.5h2M302 144.5h1M544 144.5h2M577 144.5h2M302 145.5h1M542 145.5h2M579 145.5h2M303 146.5h1M540 146.5h2M581 146.5h2M304 147.5h1M537 147.5h3M583 147.5h2M304 148.5h1M533 148.5h4M585 148.5h3M305 149.5h1M529 149.5h4M588 149.5h3M305 150.5h1M526 150.5h3M591 150.5h3M306 151.5h1M524 151.5h2M594 151.5h4M307 152.5h1M522 152.5h2M598 152.5h6M307 153.5h1M520 153.5h2M604 153.5h6M308 154.5h1M518 154.5h2M610 154.5h6M308 155.5h1M516 155.5h2M616 155.5h3M309 156.5h2M342 156.5h2M515 156.5h1M311 157.5h4M339 157.5h3M343 157.5h1M514 157.5h1M315 158.5h4M337 158.5h2M344 158.5h1M512 158.5h2M319 159.5h8M334 159.5h3M344 159.5h1M511 159.5h1M327 160.5h7M345 160.5h1M510 160.5h1M345 161.5h1M508 161.5h2M346 162.5h1M507 162.5h1M346 163.5h1M506 163.5h1M347 164.5h1M504 164.5h2M347 165.5h1M498 165.5h6M348 166.5h1M490 166.5h8M348 167.5h1M484 167.5h6M349 168.5h1M475 168.5h9M349 169.5h1M467 169.5h8M350 170.5h1M461 170.5h6M350 171.5h1M457 171.5h4M351 172.5h1M455 172.5h2M351 173.5h1M453 173.5h2M352 174.5h1M451 174.5h2M352 175.5h1M449 175.5h2M353 176.5h1M447 176.5h2M353 177.5h1M446 177.5h1M354 178.5h1M444 178.5h2M354 179.5h1M443 179.5h1M355 180.5h1M441 180.5h2M355 181.5h1M439 181.5h2M356 182.5h1M438 182.5h1M357 183.5h1M436 183.5h2M358 184.5h1M435 184.5h1M359 185.5h1M434 185.5h1M360 186.5h1M433 186.5h1M361 187.5h1M431 187.5h2M362 188.5h1M430 188.5h1M363 189.5h1M429 189.5h1M364 190.5h1M428 190.5h1M365 191.5h1M427 191.5h1M366 192.5h3M425 192.5h2M369 193.5h6M398 193.5h5M424 193.5h1M375 194.5h9M392 194.5h6M403 194.5h4M421 194.5h3M384 195.5h8M407 195.5h4M415 195.5h6M411 196.5h4"/>
<path stroke="#0000ff" d="M80 51.5h1M81 52.5h1M82 53.5h1M83 54.5h1M84 55.5h1M85 56.5h1M86 57.5h1M87 58.5h1M88 59.5h1M89 60.5h1M90 61.5h1M91 62.5h1M92 63.5h1M93 64.5h1M94 65.5h1M95 66.5h1M96 67.5h1M97 68.5h1M98 69.5h1M99 70.5h1M100 71.5h1M101 72.5h1M102 73.5h1M103 74.5h1M104 75.5h1M105 76.5h1M106 77.5h1M107 78.5h1M108 79.5h1M109 80.5h1M110 81.5h1M111 82.5h1M112 83.5h1M113 84.5h1M114 85.5h1M115 86.5h1M116 87.5h1M117 88.5h1M118 89.5h1M119 90.5h1M120 91.5h1M121 92.5h1M122 93.5h1M123 94.5h1M124 95.5h1M125 96.5h1M126 97.5h1M127 98.5h1M128 99.5h1M129 100.5h1M130 101.5h1M131 102.5h1M132 103.5h1M133 104.5h1M134 105.5h1M148 105.5h2M135 106.5h1M144 106.5h4M150 106.5h2M136 107.5h1M140 107.5h4M152 107.5h1M137 108.5h3M153 108.5h2M155 109.5h2M157 110.5h1M158 111.5h2M160 112.5h2M162 113.5h2M164 114.5h3M167 115.5h2M169 116.5h2M171 117.5h7M178 118.5h7M185 119.5h4M189 120.5h4M251 120.5h4M193 121.5h8M247 121.5h4M255 121.5h6M201 122.5h11M224 122.5h11M243 122.5h4M261 122.5h8M212 123.5h12M235 123.5h8M269 123.5h8M277 124.5h4M281 125.5h4M285 126.5h2M287 127.5h1M288 128.5h1M289 129.5h1M289 130.5h1M290 131.5h1M291 132.5h1M292 133.5h1M293 134.5h1M294 135.5h1M294 136.5h1M555 136.5h12M295 137.5h1M548 137.5h7M567 137.5h6M296 138.5h1M545 138.5h3M573 138.5h2M297 139.5h1M543 139.5h2M575 139.5h2M298 140.5h1M540 140.5h3M577 140.5h2M298 141.5h1M537 141.5h3M579 141.5h2M299 142.5h1M534 142.5h3M581 142.5h2M300 143.5h1M531 143.5h3M583 143.5h2M300 144.5h1M528 144.5h3M585 144.5h2M301 145.5h1M525 145.5h3M587 145.5h2M302 146.5h1M523 146.5h2M589 146.5h2M302 147.5h1M521 147.5h2M591 147.5h2M303 148.5h1M519 148.5h2M593 148.5h2M304 149.5h1M517 149.5h2M595 149.5h3M304 150.5h1M515 150.5h2M598 150.5h6M305 151.5h1M514 151.5h1M604 151.5h6M306 152.5h1M512 152.5h2M610 152.5h6M306 153.5h1M511 153.5h1M616 153.5h3M307 154.5h1M510 154.5h1M308 155.5h1M508 155.5h2M308 156.5h1M507 156.5h1M309 157.5h2M506 157.5h1M311 158.5h2M342 158.5h2M504 158.5h2M313 159.5h2M338 159.5h4M343 159.5h1M501 159.5h3M315 160.5h2M334 160.5h4M344 160.5h1M495 160.5h6M317 161.5h2M327 161.5h7M344 161.5h1M491 161.5h4M319 162.5h8M345 162.5h1M487 162.5h4M345 163.5h1M483 163.5h4M346 164.5h1M468 164.5h15M346 165.5h1M464 165.5h4M347 166.5h1M460 166.5h4M347 167.5h1M457 167.5h3M348 168.5h1M455 168.5h2M348 169.5h1M454 169.5h1M349 170.5h1M452 170.5h2M349 171.5h1M450 171.5h2M350 172.5h1M449 172.5h1M350 173.5h1M447 173.5h2M351 174.5h1M446 174.5h1M351 175.5h1M444 175.5h2M352 176.5h1M443 176.5h1M352 177.5h1M441 177.5h2M353 178.5h1M439 178.5h2M353 179.5h1M438 179.5h1M354 180.5h1M436 180.5h2M354 181.5h1M435 181.5h1M355 182.5h1M434 182.5h1M356 183.5h1M433 183.5h1M357 184.5h1M432 184.5h1M358 185.5h1M431 185.5h1M359 186.5h1M430 186.5h1M360 187.5h2M428 187.5h2M362 188.5h1M427 188.5h1M363 189.5h1M426 189.5h1M364 190.5h1M399 190.5h3M425 190.5h1M365 191.5h1M395 191.5h4M402 191.5h3M424 191.5h1M366 192.5h2M391 192.5h4M405 192.5h3M421 192.5h3M368 193.5h4M387 193.5h4M408 193.5h3M415 193.5h6M372 194.5h4M381 194.5h6M411 194.5h4M376 195.5h5"/>
<path stroke="#00ff00" d="M80 49.5h1M81 50.5h1M82 51.5h1M83 52.5h1M84 53.5h1M85 54.5h1M86 55.5h1M87 56.5h1M88 57.5h1M89 58.5h1M90 59.5h1M91 60.5h1M92 61.5h1M93 62.5h1M94 63.5h1M95 64.5h1M96 65.5h2M98 66.5h1M99 67.5h1M100 68.5h1M101 69.5h1M102 70.5h1M103 71.5h1M104 72.5h1M105 73.5h1M106 74.5h1M107 75.5h1M108 76.5h1M109 77.5h1M110 78.5h1M111 79.5h1M112 80.5h1M113 81.5h1M114 82.5h1M115 83.5h1M116 84.5h1M117 85.5h1M118 86.5h1M119 87.5h2M121 88.5h1M122 89.5h1M123 90.5h1M124 91.5h1M125 92.5h1M126 93.5h1M127 94.5h1M128 95.5h1M129 96.5h1M130 97.5h1M131 98.5h1M132 99.5h1M133 100.5h1M134 101.5h1M135 102.5h1M147 102.5h3M136 103.5h1M141 103.5h6M150 103.5h2M137 104.5h4M152 104.5h1M153 105.5h2M155 106.5h2M157 107.5h1M158 108.5h2M160 109.5h2M162 110.5h3M165 111.5h3M168 112.5h3M171 113.5h4M175 114.5h6M181 115.5h4M185 116.5h4M189 117.5h4M193 118.5h8M250 118.5h8M201 119.5h11M244 119.5h6M258 119.5h11M212 120.5h32M269 120.5h8M277 121.5h4M281 122.5h4M285 123.5h2M287 124.5h1M288 125.5h1M289 126.5h1M290 127.5h1M291 128.5h1M291 129.5h1M292 130.5h1M293 131.5h1M294 132.5h1M295 133.5h1M296 134.5h1M297 135.5h1M298 136.5h1M298 137.5h1M299 138.5h1M300 139.5h1M558 139.5h9M300 140.5h1M552 140.5h6M567 140.5h7M301 141.5h1M548 141.5h4M574 141.5h2M302 142.5h1M546 142.5h2M576 142.5h2M302 143.5h1M544 143.5h2M578 143.5h2M303 144.5h1M542 144.5h2M580 144.5h2M304 145.5h1M540 145.5h2M582 145.5h3M304 146.5h1M537 146.5h3M585 146.5h2M305 147.5h1M533 147.5h4M587 147.5h3M306 148.5h1M529 148.5h4M590 148.5h2M306 149.5h1M526 149.5h3M592 149.5h2M307 150.5h1M524 150.5h2M594 150.5h4M308 151.5h1M522 151.5h2M598 151.5h6M308 152.5h1M520 152.5h2M604 152.5h6M309 153.5h2M518 153.5h2M610 153.5h6M311 154.5h2M516 154.5h2M616 154.5h3M313 155.5h2M342 155.5h2M515 155.5h1M315 156.5h2M339 156.5h3M343 156.5h1M514 156.5h1M317 157.5h2M337 157.5h2M344 157.5h1M512 157.5h2M319 158.5h8M334 158.5h3M344 158.5h1M511 158.5h1M327 159.5h7M345 159.5h1M510 159.5h1M345 160.5h1M508 160.5h2M346 161.5h1M507 161.5h1M346 162.5h1M506 162.5h1M347 163.5h1M504 163.5h2M347 164.5h1M498 164.5h6M348 165.5h1M490 165.5h8M348 166.5h1M484 166.5h6M349 167.5h1M475 167.5h9M349 168.5h1M467 168.5h8M350 169.5h1M461 169.5h6M350 170.5h1M457 170.5h4M351 171.5h1M455 171.5h2M351 172.5h1M453 172.5h2M352 173.5h1M451 173.5h2M352 174.5h1M449 174.5h2M353 175.5h1M447 175.5h2M353 176.5h1M446 176.5h1M354 177.5h1M444 177.5h2M354 178.5h1M443 178.5h1M355 179.5h1M441 179.5h2M355 180.5h1M439 180.5h2M356 181.5h1M438 181.5h1M357 182.5h1M436 182.5h2M358 183.5h1M435 183.5h1M359 184.5h1M434 184.5h1M360 185.5h1M433 185.5h1M361 186.5h1M431 186.5h2M362 187.5h1M430 187.5h1M363 188.5h1M429 188.5h1M364 189.5h1M428 189.5h1M365 190.5h1M427 190.5h1M366 191.5h2M398 191.5h4M425 191.5h2M368 192.5h4M392 192.5h6M402 192.5h3M424 192.5h1M372 193.5h4M384 193.5h8M405 193.5h3M421 193.5h3M376 194.5h8M408 194.5h3M415 194.5h6M411 195.5h4"/>
<path stroke="#009000" d="M80 49.5h1M81 50.5h1M82 51.5h1M83 52.5h1M84 53.5h1M85 54.5h1M86 55.5h1M87 56.5h1M88 57.5h1M89 58.5h1M90 59.5h1M91 60.5h1M92 61.5h1M93 62.5h1M94 63.5h1M95 64.5h1M96 65.5h1M97 66.5h1M98 67.5h1M99 68.5h1M100 69.5h1M101 70.5h1M102 71.5h1M103 72.5h1M104 73.5h1M105 74.5h1M106 75.5h1M107 76.5h1M108 77.5h1M109 78.5h1M110 79.5h1M111 80.5h1M112 81.5h1M113 82.5h1M114 83.5h1M115 84.5h1M116 85.5h1M117 86.5h1M118 87.5h1M119 88.5h1M120 89.5h1M121 90.5h1M122 91.5h1M123 92.5h1M124 93.5h1M125 94.5h1M126 95.5h1M127 96.5h1M128 97.5h1M129 98.5h1M130 99.5h1M131 100.5h1M132 101.5h1M133 102.5h1M134 103.5h1M148 103.5h2M135 104.5h1M144 104.5h4M150 104.5h2M136 105.5h1M140 105.5h4M152 105.5h1M137 106.5h3M153 106.5h2M155 107.5h2M157 108.5h1M158 109.5h2M160 110.5h2M162 111.5h3M165 112.5h3M168 113.5h3M171 114.5h4M175 115.5h6M181 116.5h4M185 117.5h4M189 118.5h4M193 119.5h5M251 119.5h7M198 120.5h6M247 120.5h4M258 120.5h11M204 121.5h31M243 121.5h4M269 121.5h8M235 122.5h8M277 122.5h4M281 123.5h4M285 124.5h2M287 125.5h1M288 126.5h1M289 127.5h1M290 128.5h1M291 129.5h1M291 130.5h1M292 131.5h1M293 132.5h1M294 133.5h1M295 134.5h1M296 135.5h1M555 135.5h12M297 136.5h1M548 136.5h7M567 136.5h6M298 137.5h1M546 137.5h2M573 137.5h2M298 138.5h1M544 138.5h2M575 138.5h2M299 139.5h1M542 139.5h2M577 139.5h2M300 140.5h1M540 140.5h2M579 140.5h2M300 141.5h1M537 141.5h3M581 141.5h2M301 142.5h1M533 142.5h4M583 142.5h2M301 143.5h1M529 143.5h4M585 143.5h2M302 144.5h1M526 144.5h3M587 144.5h2M303 145.5h1M524 145.5h2M589 145.5h2M303 146.5h1M522 146.5h2M591 146.5h2M304 147.5h1M520 147.5h2M593 147.5h2M305 148.5h1M518 148.5h2M595 148.5h3M305 149.5h1M516 149.5h2M598 149.5h6M306 150.5h1M515 150.5h1M604 150.5h6M306 151.5h1M514 151.5h1M610 151.5h6M307 152.5h1M512 152.5h2M616 152.5h3M308 153.5h1M511 153.5h1M308 154.5h1M510 154.5h1M309 155.5h2M508 155.5h2M311 156.5h2M342 156.5h2M507 156.5h1M313 157.5h2M339 157.5h3M343 157.5h1M506 157.5h1M315 158.5h2M337 158.5h2M344 158.5h1M504 158.5h2M317 159.5h2M334 159.5h3M344 159.5h1M498 159.5h6M319 160.5h15M345 160.5h1M491 160.5h7M345 161.5h1M487 161.5h4M346 162.5h1M483 162.5h4M346 163.5h1M468 163.5h15M347 164.5h1M464 164.5h4M347 165.5h1M460 165.5h4M348 166.5h1M457 166.5h3M348 167.5h1M455 167.5h2M349 168.5h1M454 168.5h1M349 169.5h1M453 169.5h1M350 170.5h1M451 170.5h2M350 171.5h1M450 171.5h1M351 172.5h1M449 172.5h1M351 173.5h1M447 173.5h2M352 174.5h1M446 174.5h1M352 175.5h1M444 175.5h2M353 176.5h1M442 176.5h2M353 177.5h1M440 177.5h2M354 178.5h1M438 178.5h2M354 179.5h1M436 179.5h2M355 180.5h1M435 180.5h1M356 181.5h1M434 181.5h1M357 182.5h1M433 182.5h1M358 183.5h1M432 183.5h1M359 184.5h1M431 184.5h1M360 185.5h1M430 185.5h1M361 186.5h1M429 186.5h1M362 187.5h1M428 187.5h1M363 188.5h1M427 188.5h1M364 189.5h1M426 189.5h1M365 190.5h1M399 190.5h3M425 190.5h1M366 191.5h2M395 191.5h4M402 191.5h3M424 191.5h1M368 192.5h4M391 192.5h4M405 192.5h3M421 192.5h3M372 193.5h4M384 193.5h7M408 193.5h3M415 193.5h6M376 194.5h8M411 194.5h4"/>
<path stroke="#0000ff" d="M320 282.5h13M318 283.5h2M333 283.5h1M316 284.5h2M334 284.5h2M314 285.5h2M336 285.5h1M312 286.5h2M337 286.5h1M310 287.5h2M338 287.5h1M309 288.5h1M339 288.5h1M308 289.5h1M340 289.5h2M308 290.5h1M342 290.5h1M307 291.5h1M343 291.5h1M306 292.5h1M344 292.5h1M377 292.5h4M305 293.5h1M345 293.5h1M375 293.5h2M381 293.5h6M305 294.5h1M346 294.5h1M373 294.5h2M387 294.5h3M304 295.5h1M347 295.5h1M371 295.5h2M390 295.5h2M303 296.5h1M348 296.5h1M369 296.5h2M392 296.5h2M303 297.5h1M349 297.5h1M367 297.5h2M394 297.5h2M302 298.5h1M349 298.5h1M366 298.5h1M396 298.5h2M301 299.5h1M350 299.5h1M364 299.5h2M398 299.5h2M301 300.5h1M351 300.5h1M362 300.5h2M400 300.5h7M300 301.5h1M352 301.5h1M360 301.5h2M407 301.5h6M299 302.5h1M353 302.5h1M358 302.5h2M413 302.5h1M298 303.5h1M354 303.5h1M356 303.5h2M414 303.5h1M298 304.5h1M355 304.5h1M415 304.5h1M297 305.5h1M416 305.5h1M296 306.5h1M417 306.5h2M295 307.5h1M419 307.5h1M295 308.5h1M420 308.5h1M294 309.5h1M421 309.5h1M293 310.5h1M422 310.5h1M292 311.5h1M423 311.5h1M291 312.5h1M424 312.5h1M291 313.5h1M424 313.5h1M290 314.5h1M425 314.5h1M289 315.5h1M425 315.5h1M288 316.5h1M426 316.5h1M288 317.5h1M426 317.5h1M287 318.5h1M427 318.5h1M235 319.5h7M281 319.5h6M427 319.5h1M224 320.5h11M242 320.5h3M269 320.5h12M428 320.5h1M215 321.5h9M245 321.5h3M261 321.5h8M428 321.5h1M209 322.5h6M248 322.5h3M255 322.5h6M429 322.5h1M205 323.5h4M251 323.5h4M429 323.5h1M202 324.5h3M430 324.5h1M199 325.5h3M430 325.5h1M196 326.5h3M431 326.5h1M194 327.5h2M431 327.5h1M192 328.5h2M432 328.5h1M191 329.5h1M432 329.5h1M189 330.5h2M433 330.5h1M187 331.5h2M433 331.5h1M186 332.5h1M434 332.5h1M184 333.5h2M434 333.5h1M182 334.5h2M435 334.5h1M180 335.5h2M436 335.5h1M178 336.5h2M437 336.5h1M176 337.5h2M438 337.5h1M174 338.5h2M438 338.5h1M172 339.5h2M439 339.5h1M170 340.5h2M440 340.5h1M168 341.5h2M441 341.5h1M166 342.5h2M442 342.5h1M164 343.5h2M443 343.5h1M162 344.5h2M443 344.5h1M160 345.5h2M444 345.5h1M159 346.5h1M445 346.5h1M157 347.5h2M446 347.5h1M156 348.5h1M447 348.5h2M155 349.5h1M449 349.5h1M154 350.5h1M450 350.5h1M153 351.5h1M451 351.5h2M137 352.5h4M151 352.5h2M453 352.5h1M136 353.5h1M141 353.5h6M150 353.5h1M454 353.5h1M136 354.5h1M147 354.5h3M455 354.5h2M135 355.5h1M457 355.5h2M134 356.5h1M459 356.5h3M134 357.5h1M462 357.5h3M133 358.5h1M465 358.5h3M132 359.5h1M468 359.5h3M131 360.5h1M471 360.5h4M131 361.5h1M475 361.5h4M130 362.5h1M479 362.5h3M129 363.5h1M482 363.5h2M129 364.5h1M484 364.5h3M128 365.5h1M487 365.5h2M127 366.5h1M489 366.5h2M127 367.5h1M491 367.5h4M126 368.5h1M495 368.5h6M124 369.5h2M501 369.5h3M123 370.5h1M504 370.5h1M121 371.5h2M504 371.5h1M120 372.5h1M505 372.5h1M118 373.5h2M506 373.5h1M117 374.5h1M506 374.5h1M115 375.5h2M507 375.5h1M102 376.5h13M508 376.5h1M99 377.5h3M508 377.5h1M96 378.5h3M509 378.5h1M93 379.5h3M510 379.5h1M91 380.5h2M510 380.5h1M90 381.5h1M511 381.5h1M88 382.5h2M512 382.5h1M87 383.5h1M512 383.5h1M86 384.5h1M513 384.5h1M85 385.5h1M514 385.5h1M84 386.5h1M514 386.5h1M82 387.5h2M515 387.5h1M81 388.5h1M516 388.5h1M80 389.5h1M517 389.5h2M519 390.5h1M520 391.5h1M521 392.5h1M522 393.5h1M523 394.5h2M525 395.5h1M526 396.5h2M528 397.5h3M531 398.5h3M534 399.5h3M537 400.5h2M539 401.5h1M540 402.5h1M541 403.5h1M542 404.5h1M543 405.5h1M543 406.5h1M544 407.5h1M545 408.5h1M546 409.5h1M547 410.5h1M548 411.5h1M549 412.5h1M550 413.5h1M551 414.5h1M551 415.5h1M552 416.5h1M553 417.5h1M554 418.5h1M554 419.5h1M555 420.5h1M556 421.5h1M557 422.5h1M558 423.5h1M558 424.5h1M559 425.5h1M560 426.5h2M562 427.5h3M582 427.5h28M565 428.5h3M578 428.5h4M610 428.5h6M568 429.5h3M574 429.5h4M616 429.5h3M571 430.5h3"/>
<path stroke="#00c000" d="M327 280.5h6M320 281.5h7M333 281.5h1M318 282.5h2M334 282.5h2M316 283.5h2M336 283.5h1M314 284.5h2M337 284.5h1M312 285.5h2M338 285.5h1M310 286.5h2M339 286.5h1M309 287.5h1M340 287.5h2M308 288.5h1M342 288.5h1M308 289.5h1M343 289.5h1M307 290.5h1M344 290.5h1M306 291.5h1M345 291.5h1M305 292.5h1M346 292.5h1M377 292.5h4M305 293.5h1M346 293.5h1M375 293.5h2M381 293.5h6M304 294.5h1M347 294.5h1M373 294.5h2M387 294.5h3M303 295.5h1M348 295.5h1M371 295.5h2M390 295.5h2M303 296.5h1M349 296.5h1M369 296.5h2M392 296.5h1M302 297.5h1M350 297.5h1M367 297.5h2M393 297.5h2M301 298.5h1M351 298.5h1M365 298.5h2M395 298.5h2M301 299.5h1M352 299.5h1M363 299.5h2M397 299.5h1M300 300.5h1M352 300.5h1M361 300.5h2M398 300.5h2M299 301.5h1M353 301.5h1M359 301.5h2M400 301.5h7M298 302.5h1M354 302.5h1M357 302.5h2M407 302.5h6M298 303.5h1M355 303.5h2M413 303.5h1M297 304.5h1M414 304.5h1M296 305.5h1M415 305.5h1M295 306.5h1M416 306.5h1M295 307.5h1M417 307.5h2M294 308.5h1M419 308.5h1M293 309.5h1M420 309.5h1M292 310.5h1M421 310.5h1M291 311.5h1M422 311.5h1M291 312.5h1M423 312.5h1M290 313.5h1M424 313.5h1M289 314.5h1M424 314.5h1M288 315.5h1M425 315.5h1M288 316.5h1M425 316.5h1M287 317.5h1M426 317.5h1M235 318.5h8M281 318.5h6M426 318.5h1M224 319.5h11M243 319.5h4M269 319.5h12M427 319.5h1M215 320.5h9M247 320.5h4M258 320.5h11M427 320.5h1M209 321.5h6M251 321.5h7M428 321.5h1M205 322.5h4M428 322.5h1M202 323.5h3M429 323.5h1M199 324.5h3M429 324.5h1M196 325.5h3M430 325.5h1M194 326.5h2M430 326.5h1M192 327.5h2M431 327.5h1M190 328.5h2M431 328.5h1M188 329.5h2M432 329.5h1M186 330.5h2M432 330.5h1M184 331.5h2M433 331.5h1M182 332.5h2M433 332.5h1M180 333.5h2M434 333.5h1M178 334.5h2M434 334.5h1M176 335.5h2M435 335.5h1M174 336.5h2M436 336.5h1M172 337.5h2M437 337.5h1M170 338.5h2M438 338.5h1M168 339.5h2M438 339.5h1M166 340.5h2M439 340.5h1M164 341.5h2M440 341.5h1M162 342.5h2M441 342.5h1M160 343.5h2M442 343.5h1M159 344.5h1M443 344.5h1M158 345.5h1M443 345.5h1M157 346.5h1M444 346.5h1M156 347.5h1M445 347.5h1M154 348.5h2M446 348.5h1M153 349.5h1M447 349.5h1M152 350.5h1M448 350.5h2M137 351.5h4M151 351.5h1M450 351.5h1M136 352.5h1M141 352.5h6M150 352.5h1M451 352.5h1M136 353.5h1M147 353.5h3M452 353.5h1M135 354.5h1M453 354.5h1M134 355.5h1M454 355.5h2M134 356.5h1M456 356.5h1M133 357.5h1M457 357.5h3M132 358.5h1M460 358.5h4M131 359.5h1M464 359.5h4M131 360.5h1M468 360.5h3M130 361.5h1M471 361.5h4M129 362.5h1M475 362.5h4M129 363.5h1M479 363.5h3M128 364.5h1M482 364.5h2M127 365.5h1M484 365.5h3M127 366.5h1M487 366.5h2M126 367.5h1M489 367.5h2M124 368.5h2M491 368.5h3M123 369.5h1M494 369.5h4M121 370.5h2M498 370.5h4M120 371.5h1M502 371.5h2M118 372.5h2M504 372.5h1M117 373.5h1M504 373.5h1M115 374.5h2M505 374.5h1M102 375.5h13M506 375.5h1M99 376.5h3M507 376.5h1M96 377.5h3M507 377.5h1M93 378.5h3M508 378.5h1M91 379.5h2M509 379.5h1M90 380.5h1M510 380.5h1M89 381.5h1M510 381.5h1M88 382.5h1M511 382.5h1M87 383.5h1M512 383.5h1M85 384.5h2M513 384.5h1M84 385.5h1M513 385.5h1M83 386.5h1M514 386.5h1M82 387.5h1M515 387.5h1M81 388.5h1M516 388.5h2M80 389.5h1M518 389.5h1M519 390.5h1M520 391.5h2M522 392.5h1M523 393.5h1M524 394.5h2M526 395.5h2M528 396.5h2M530 397.5h3M533 398.5h2M535 399.5h2M537 400.5h2M539 401.5h1M540 402.5h1M541 403.5h1M542 404.5h1M543 405.5h1M544 406.5h1M545 407.5h1M546 408.5h1M547 409.5h1M548 410.5h1M549 411.5h1M550 412.5h1M550 413.5h1M551 414.5h1M552 415.5h1M553 416.5h1M553 417.5h1M554 418.5h1M555 419.5h1M556 420.5h1M556 421.5h1M557 422.5h1M558 423.5h1M559 424.5h1M559 425.5h1M560 426.5h2M590 426.5h19M562 427.5h3M582 427.5h8M609 427.5h4M565 428.5h3M578 428.5h4M613 428.5h4M568 429.5h3M574 429.5h4M617 429.5h2M571 430.5h3"/>
<path stroke="#ff9000" d="M666.5 60v9M640.5 59v9M652.5 62v7M658.5 63v3M667 59.5h2M639 62.5h1M641 62.5h2M654 62.5h2M659 62.5h3M664 62.5h2M667 62.5h2M653 63.5h1M661 63.5h2M662 64.5h1M657 65.5h1M659 65.5h4M657 66.5h1M658 67.5h1M662 67.5h1M641 68.5h11M658 68.5h4"/>
<path stroke="#1e90ff" d="M640.5 76v8M677.5 76v10M660.5 79v7M681.5 80v4M664.5 79v7M657.5 79v7M690.5 79v10M660 75.5h1M660 76.5h2M639 79.5h1M641 79.5h2M653 79.5h4M665 79.5h3M675 79.5h2M678 79.5h1M682 79.5h4M691 79.5h4M652 80.5h1M686 80.5h1M694 80.5h1M651 81.5h1M687 81.5h1M695 81.5h1M651 82.5h1M687 82.5h1M695 82.5h1M652 83.5h1M686 83.5h1M694 83.5h1M641 84.5h1M653 84.5h1M656 84.5h1M682 84.5h1M685 84.5h1M691 84.5h1M694 84.5h1M641 85.5h12M654 85.5h2M668 85.5h9M678 85.5h2M683 85.5h2M691 85.5h3"/>
<path stroke="#0000ff" d="M657.5 95v7M721.5 97v5M640.5 92v9M676.5 92v10M711.5 95v7M660.5 95v7M708.5 96v5M684.5 96v5M664.5 95v7M698.5 92v9M690.5 97v3M681.5 96v5M703.5 96v5M693.5 92v9M716.5 96v6M660 92.5h2M660 93.5h1M639 95.5h1M641 95.5h2M654 95.5h2M666 95.5h2M678 95.5h2M686 95.5h2M692 95.5h1M694 95.5h2M697 95.5h1M699 95.5h2M705 95.5h2M714 95.5h2M718 95.5h3M652 96.5h2M656 96.5h1M665 96.5h1M677 96.5h1M680 96.5h1M685 96.5h1M688 96.5h2M704 96.5h1M707 96.5h1M713 96.5h1M717 96.5h1M720 96.5h1M652 97.5h1M712 97.5h1M651 98.5h1M651 99.5h1M652 100.5h1M689 100.5h1M641 101.5h16M668 101.5h8M677 101.5h4M685 101.5h4M694 101.5h2M699 101.5h2M704 101.5h4"/>
<path stroke="#00ff00" d="M688.5 113v4M691.5 112v10M652.5 109v8M663.5 109v10M640.5 109v8M678.5 109v8M657.5 112v7M683.5 113v4M668.5 113v6M639 112.5h1M641 112.5h2M651 112.5h1M653 112.5h2M658 112.5h4M664 112.5h4M677 112.5h1M679 112.5h2M684 112.5h4M692 112.5h4M658 113.5h1M696 113.5h1M697 114.5h1M697 115.5h1M696 116.5h1M641 117.5h1M653 117.5h1M679 117.5h1M684 117.5h1M687 117.5h1M692 117.5h1M695 117.5h1M641 118.5h12M654 118.5h1M669 118.5h10M680 118.5h2M685 118.5h2M693 118.5h2"/>
<path stroke="#009000" d="M700.5 125v10M678.5 125v10M686.5 129v5M713.5 128v7M657.5 128v7M691.5 129v5M640.5 125v9M652.5 125v10M663.5 125v10M695.5 125v10M718.5 130v5M668.5 130v5M710.5 129v5M723.5 130v5M683.5 129v5M639 128.5h1M641 128.5h2M651 128.5h1M653 128.5h2M659 128.5h3M665 128.5h2M680 128.5h2M688 128.5h2M694 128.5h1M696 128.5h2M699 128.5h1M701 128.5h2M707 128.5h2M715 128.5h3M720 128.5h2M658 129.5h1M664 129.5h1M667 129.5h1M679 129.5h1M682 129.5h1M687 129.5h1M690 129.5h1M705 129.5h2M709 129.5h1M714 129.5h1M717 129.5h1M719 129.5h1M722 129.5h1M705 130.5h1M704 131.5h1M704 132.5h1M705 133.5h1M641 134.5h11M653 134.5h2M669 134.5h9M679 134.5h4M687 134.5h4M696 134.5h2M701 134.5h2M706 134.5h4"/>
<path stroke="#0000ff" d="M640.5 316v7M645.5 313v10M674.5 316v10M650.5 317v6M661.5 313v10M671.5 317v5M679.5 317v5M642 316.5h2M648 316.5h2M660 316.5h1M662 316.5h2M668 316.5h2M676 316.5h2M641 317.5h1M647 317.5h1M666 317.5h2M670 317.5h1M675 317.5h1M678 317.5h1M646 318.5h1M666 318.5h1M665 319.5h1M665 320.5h1M666 321.5h1M652 322.5h9M662 322.5h2M667 322.5h4M675 322.5h4"/>
<path stroke="#00c000" d="M705.5 333v7M640.5 333v7M687.5 334v4M650.5 333v7M661.5 330v10M696.5 333v7M645.5 330v10M674.5 334v4M677.5 330v8M683.5 330v9M700.5 333v7M641 333.5h3M647 333.5h3M662 333.5h3M670 333.5h4M676 333.5h1M678 333.5h2M681 333.5h2M684 333.5h1M688 333.5h4M697 333.5h3M702 333.5h3M646 334.5h1M665 334.5h1M669 334.5h1M692 334.5h1M701 334.5h1M666 335.5h1M668 335.5h1M693 335.5h1M666 336.5h1M668 336.5h1M693 336.5h1M665 337.5h1M669 337.5h1M692 337.5h1M664 338.5h1M670 338.5h1M673 338.5h1M678 338.5h1M688 338.5h1M691 338.5h1M652 339.5h9M662 339.5h3M671 339.5h2M679 339.5h2M684 339.5h2M689 339.5h3"/>
</g>
</svg>
</body></html>
